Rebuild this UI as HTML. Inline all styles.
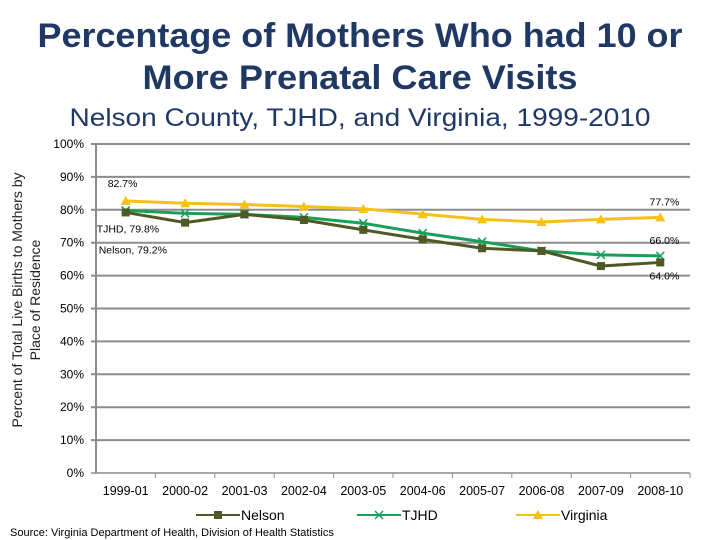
<!DOCTYPE html>
<html><head><meta charset="utf-8"><style>
body{margin:0;background:#fff;}
svg{display:block;font-family:"Liberation Sans",sans-serif;}
</style></head><body>
<svg id="chart" width="720" height="540">
<text x="360" y="47" text-anchor="middle" font-size="34" font-weight="bold" fill="#1f3864" textLength="645" lengthAdjust="spacingAndGlyphs">Percentage of Mothers Who had 10 or</text>
<text x="360" y="89" text-anchor="middle" font-size="34" font-weight="bold" fill="#1f3864" textLength="435" lengthAdjust="spacingAndGlyphs">More Prenatal Care Visits</text>
<text x="360" y="126" text-anchor="middle" font-size="25" fill="#1f3864" textLength="581" lengthAdjust="spacingAndGlyphs">Nelson County, TJHD, and Virginia, 1999-2010</text>
<text transform="translate(22,300) rotate(-90)" text-anchor="middle" font-size="14" fill="#222">Percent of Total Live Births to Mothers by</text>
<text transform="translate(40,300) rotate(-90)" text-anchor="middle" font-size="14" fill="#222">Place of Residence</text>
<g id="grid"></g><g id="series"></g><g id="labels"></g>
<text x="10" y="536" font-size="11" fill="#000">Source: Virginia Department of Health, Division of Health Statistics</text>
</svg>
<script>
const categories=["1999-01","2000-02","2001-03","2002-04","2003-05","2004-06","2005-07","2006-08","2007-09","2008-10"];
const nelson=[79.2,76.1,78.6,76.9,73.9,71.0,68.3,67.5,62.9,64.0];
const tjhd=[79.8,78.9,78.6,77.7,75.9,72.9,70.3,67.5,66.3,66.0];
const virginia=[82.7,82.0,81.6,81.0,80.3,78.7,77.1,76.3,77.1,77.7];
const yTicks=[0,10,20,30,40,50,60,70,80,90,100];
const NS="http://www.w3.org/2000/svg";
const L=96,R=690,T=144,B=473;
const x=i=>L+(R-L)/categories.length*(i+0.5);
const y=v=>B-(B-T)*v/100;
function mk(tag,attrs,parent){const e=document.createElementNS(NS,tag);for(const k in attrs)e.setAttribute(k,attrs[k]);parent.appendChild(e);return e;}
const grid=document.getElementById('grid');
yTicks.forEach(t=>{
  const g=mk('line',{x1:L-5,x2:R,y1:y(t),y2:y(t),stroke:'#8c8c8c','stroke-width':t===0?1.5:2},grid);
  
  
  const tx=mk('text',{x:L-12,y:y(t)+4,'text-anchor':'end','font-size':12,fill:'#000'},grid);
  tx.textContent=t+'%';
  
  
});
const ax=mk('line',{x1:L,x2:L,y1:T,y2:B,stroke:'#8c8c8c','stroke-width':2},grid);


categories.forEach((c,i)=>{
  const tk=mk('line',{x1:L+(R-L)/categories.length*(i+1),x2:L+(R-L)/categories.length*(i+1),y1:B,y2:B+5,stroke:'#8c8c8c'},grid);
  
  
  const t=mk('text',{x:x(i),y:B+22,'text-anchor':'middle','font-size':12.5,fill:'#000'},grid);
  t.textContent=c;
  
  
});
const ser=document.getElementById('series');
function draw(data,color,marker,name){
  const g=mk('g',{},ser);
  
  
  const p=mk('polyline',{points:data.map((v,i)=>x(i)+','+y(v)).join(' '),fill:'none',stroke:color,'stroke-width':3},g);
  
  
  data.forEach((v,i)=>{
    const cx=x(i),cy=y(v);let m;
    if(marker==='sq')m=mk('rect',{x:cx-4,y:cy-4,width:8,height:8,fill:color},g);
    else if(marker==='x')m=mk('path',{d:`M${cx-4},${cy-4}L${cx+4},${cy+4}M${cx-4},${cy+4}L${cx+4},${cy-4}`,stroke:color,'stroke-width':1.5},g);
    else m=mk('polygon',{points:`${cx},${cy-5} ${cx+5},${cy+4} ${cx-5},${cy+4}`,fill:color},g);
    
    
  });
}
draw(virginia,'#f5c01a','tri','virginia');
draw(tjhd,'#1a9f5a','x','tjhd');
draw(nelson,'#4d5a24','sq','nelson');
const lab=document.getElementById('labels');
function label(txt,xx,yy,anchor){const t=mk('text',{x:xx,y:yy,'font-size':10.5,fill:'#000','text-anchor':anchor||'start'},lab);t.textContent=txt;}
label(virginia[0].toFixed(1)+'%',x(0)-18,y(virginia[0])-14);
label('TJHD, '+tjhd[0].toFixed(1)+'%',x(0)-29,y(tjhd[0])+22);
label('Nelson, '+nelson[0].toFixed(1)+'%',x(0)-27,y(nelson[0])+41);
label(virginia[9].toFixed(1)+'%',x(9)+19,y(virginia[9])-12,'end');
label(tjhd[9].toFixed(1)+'%',x(9)+19,y(tjhd[9])-12,'end');
label(nelson[9].toFixed(1)+'%',x(9)+19,y(nelson[9])+17,'end');
const leg=[['Nelson','#4d5a24','sq',196],['TJHD','#1a9f5a','x',357],['Virginia','#f5c01a','tri',516]];
leg.forEach(([n,c,m,lx])=>{
  const g=mk('g',{},lab);
  
  
  mk('line',{x1:lx,x2:lx+44,y1:515,y2:515,stroke:c,'stroke-width':2},g);
  const cx=lx+22,cy=515;
  if(m==='sq')mk('rect',{x:cx-4,y:cy-4,width:8,height:8,fill:c},g);
  else if(m==='x')mk('path',{d:`M${cx-4},${cy-4}L${cx+4},${cy+4}M${cx-4},${cy+4}L${cx+4},${cy-4}`,stroke:c,'stroke-width':1.5},g);
  else mk('polygon',{points:`${cx},${cy-5} ${cx+5},${cy+4} ${cx-5},${cy+4}`,fill:c},g);
  const t=mk('text',{x:lx+45,y:520,'font-size':14,fill:'#000'},g);t.textContent=n;
});
</script>
</body></html>
